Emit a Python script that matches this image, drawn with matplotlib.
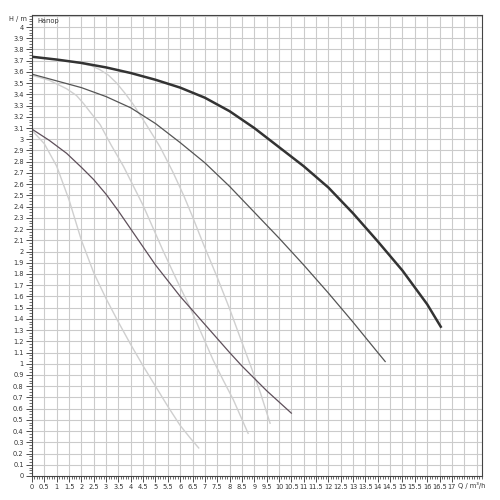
import numpy as np
import matplotlib
matplotlib.use('Agg')
import matplotlib.pyplot as plt
from matplotlib.ticker import MultipleLocator

# pump curves, Q in m3/h, H in m
q_max_speed = [0, 1, 2, 3, 4, 5, 6, 7, 8, 9, 10, 11, 12, 13, 14, 15, 16, 16.55]
h_max_speed = [3.735, 3.71, 3.68, 3.64, 3.59, 3.53, 3.46, 3.37, 3.25, 3.10,
               2.93, 2.76, 2.57, 2.34, 2.09, 1.83, 1.53, 1.33]

q_mid_speed = [0, 1, 2, 3, 4, 5, 6, 7, 8, 9, 10, 11, 12, 13, 14, 14.3]
h_mid_speed = [3.58, 3.52, 3.46, 3.38, 3.28, 3.14, 2.97, 2.79, 2.58, 2.35,
               2.12, 1.88, 1.63, 1.37, 1.10, 1.02]

q_min_speed = [0, 0.7, 1.4, 2.0, 2.5, 3.0, 3.5, 4.0, 4.5, 5.0, 5.5, 6.0, 6.5,
               7.0, 7.5, 8.0, 8.5, 9.0, 9.5, 10.0, 10.5]
h_min_speed = [3.09, 2.99, 2.875, 2.75, 2.64, 2.51, 2.36, 2.20, 2.04, 1.88,
               1.74, 1.60, 1.475, 1.35, 1.225, 1.10, 0.98, 0.87, 0.76, 0.66, 0.56]

# light grey curves
q_light_1 = [0, 1.0, 1.9, 2.4, 2.75, 3.1, 3.43, 3.8, 4.1, 4.6, 5.19, 5.7,
             6.14, 6.5, 6.95, 7.5, 8.0, 8.4, 8.84, 9.25, 9.64]
h_light_1 = [3.735, 3.71, 3.68, 3.655, 3.62, 3.57, 3.50, 3.40, 3.31, 3.14,
             2.93, 2.71, 2.50, 2.31, 2.06, 1.77, 1.49, 1.25, 0.99, 0.74, 0.47]

q_light_2 = [0, 0.7, 1.4, 1.8, 2.08, 2.4, 2.76, 3.2, 3.7, 4.1, 4.5, 4.9,
             5.3, 5.85, 6.4, 6.9, 7.34, 7.75, 8.15, 8.45, 8.75]
h_light_2 = [3.57, 3.525, 3.45, 3.39, 3.32, 3.23, 3.13, 2.95, 2.76, 2.585,
             2.41, 2.21, 2.01, 1.75, 1.50, 1.25, 1.03, 0.85, 0.68, 0.53, 0.38]

q_light_3 = [0, 0.5, 1.0, 1.5, 2.0, 2.5, 3.0, 3.5, 4.0, 4.5, 5.0, 5.5,
             6.0, 6.4, 6.75]
h_light_3 = [3.08, 2.96, 2.76, 2.46, 2.10, 1.81, 1.58, 1.37, 1.17, 0.98,
             0.80, 0.62, 0.45, 0.34, 0.25]

x_labels = np.arange(0, 17.01, 0.5)
y_labels = np.arange(0, 4.01, 0.1)


def fmt(v):
    return ('%.1f' % v).rstrip('0').rstrip('.')


fig = plt.figure(figsize=(5, 5), dpi=100)
ax = fig.add_axes([0.064, 0.048, 0.9, 0.922])
ax.set_xlim(0, 18.22)
ax.set_ylim(0, 4.107)

# grid
for x in np.arange(0.5, 18.01, 0.5):
    ax.axvline(x, color='#cbcbcb', lw=0.8, zorder=0)
for y in np.arange(0.1, 4.101, 0.1):
    ax.axhline(y, color='#cbcbcb', lw=0.8, zorder=0)

lc = '#cfcfcf'
for q, h in [(q_light_1, h_light_1), (q_light_2, h_light_2), (q_light_3, h_light_3)]:
    ax.plot(q, h, color=lc, lw=1.0, zorder=1, solid_joinstyle='round')
ax.plot(q_min_speed, h_min_speed, color='#5e4f5a', lw=0.9, zorder=2,
        solid_joinstyle='round')
ax.plot(q_mid_speed, h_mid_speed, color='#555555', lw=0.9, zorder=2,
        solid_joinstyle='round')
ax.plot(q_max_speed, h_max_speed, color='#333333', lw=1.8, zorder=3,
        solid_joinstyle='round')

ax.set_xticks(x_labels)
ax.set_xticklabels([fmt(v) for v in x_labels])
ax.set_yticks(y_labels)
ax.set_yticklabels([fmt(v) for v in y_labels])
ax.xaxis.set_minor_locator(MultipleLocator(0.1))
ax.yaxis.set_minor_locator(MultipleLocator(0.025))
ax.tick_params(which='major', direction='out', length=4, width=0.6, labelsize=4.8,
               colors='#333333', pad=2)
ax.tick_params(which='minor', direction='out', length=2, width=0.5, colors='#333333')

for s in ax.spines.values():
    s.set_color('#444444')
    s.set_linewidth(0.8)

ax.text(17.8, -0.053, 'Q / m³/h', fontsize=4.8, ha='center', va='top', color='#333333')
ax.text(-0.2, 4.07, 'H / m', fontsize=4.8, ha='right', va='center', color='#333333')
ax.text(0.2, 4.05, 'Напор', fontsize=4.8, ha='left', va='center', color='#333333')

fig.savefig('out.png', dpi=100)
